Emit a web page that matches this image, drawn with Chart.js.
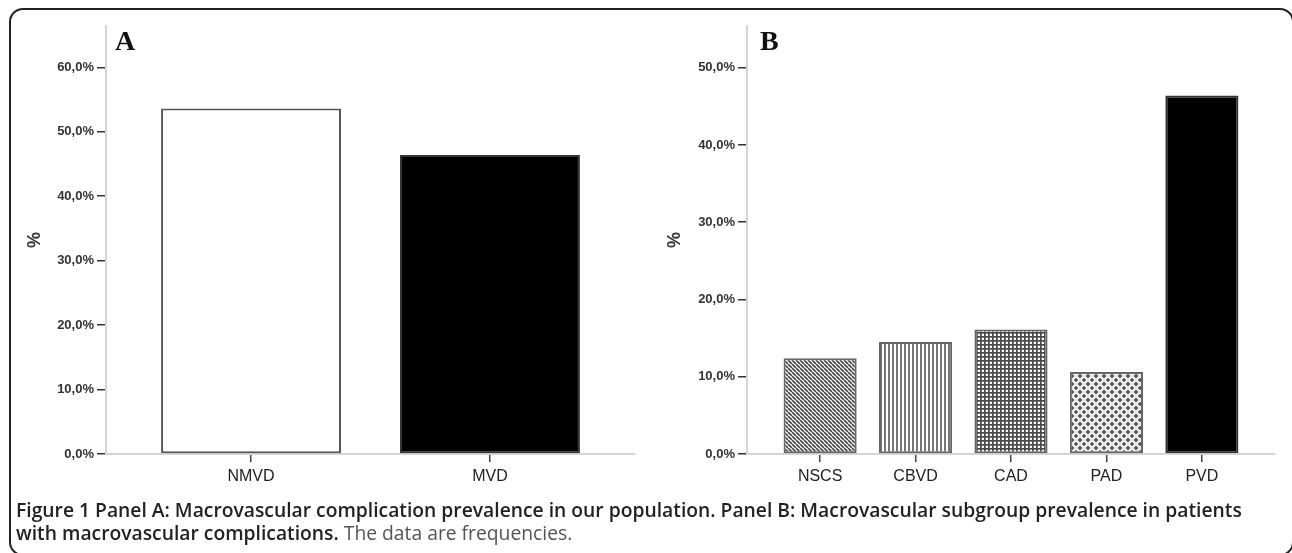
<!DOCTYPE html>
<html>
<head>
<meta charset="utf-8">
<script src="https://cdn.jsdelivr.net/npm/chart.js@4.4.1/dist/chart.umd.min.js"></script>
<style>
  html, body { margin: 0; padding: 0; background: #fff; width: 1292px; height: 553px; overflow: hidden; position: relative; }
  .frame { position: absolute; left: 9px; top: 8px; width: 1285px; height: 548px; box-sizing: border-box;
           border: 2px solid #222; border-radius: 14px; }
  .panel { position: absolute; top: 0; height: 500px; }
  #wrapA { left: 0; width: 646px; }
  #wrapB { left: 640px; width: 652px; }
  .letter { position: absolute; font-family: "Liberation Serif", "Times New Roman", serif; font-weight: bold; font-size: 28px; color: #111; line-height: 1; }
  .caption { position: absolute; left: 16px; top: 498px; font-family: "Open Sans", "Noto Sans", sans-serif; font-size: 19.3px; line-height: 23px; color: #222; white-space: nowrap; }
  .caption b { font-weight: 600; }
  .caption .n { font-weight: 400; color: #555; }
</style>
</head>
<body>
<div class="frame"></div>
<div class="panel" id="wrapA"><canvas id="chartA"></canvas></div>
<div class="panel" id="wrapB"><canvas id="chartB"></canvas></div>
<div class="letter" style="left:115px; top:27px;">A</div>
<div class="letter" style="left:760px; top:27px;">B</div>
<div class="caption"><b>Figure 1 Panel A: Macrovascular complication prevalence in our population. Panel B: Macrovascular subgroup prevalence in patients</b><br><b>with macrovascular complications.</b> <span class="n">The data are frequencies.</span></div>
<script>
// ---- data ----
const categoriesA = ["NMVD", "MVD"];
const valuesA = [53.6, 46.4];
const yTicksA = [0, 10, 20, 30, 40, 50, 60];
const yMaxA = 66.4;

const categoriesB = ["NSCS", "CBVD", "CAD", "PAD", "PVD"];
const valuesB = [12.4, 14.5, 16.1, 10.6, 46.4];
const yTicksB = [0, 10, 20, 30, 40, 50];
const yMaxB = 55.4;

// ---- patterns ----
function makeTile(size, draw) {
  const c = document.createElement('canvas');
  c.width = size; c.height = size;
  const g = c.getContext('2d');
  g.fillStyle = '#fff'; g.fillRect(0, 0, size, size);
  draw(g, size);
  return document.createElement('canvas').getContext('2d').createPattern(c, 'repeat');
}
const diagPattern = makeTile(4, (g, s) => {
  g.strokeStyle = '#4a4a4a'; g.lineWidth = 1.7;
  for (let k = -1; k <= 1; k++) {
    g.beginPath(); g.moveTo(k * s, 0); g.lineTo(k * s + s, s); g.stroke();
  }
});
const vertPattern = makeTile(4, (g, s) => {
  g.fillStyle = '#777'; g.fillRect(0, 0, 2, s);
});
const gridPattern = makeTile(4, (g, s) => {
  g.fillStyle = '#4a4a4a'; g.fillRect(0, 0, 1.7, s); g.fillRect(0, 0, s, 1.7);
});
const plusPattern = makeTile(8, (g, s) => {
  g.fillStyle = '#e2e2e2'; g.fillRect(0, 0, s, s);
  g.fillStyle = '#fff';
  g.beginPath(); g.moveTo(4, 0.5); g.lineTo(7.5, 4); g.lineTo(4, 7.5); g.lineTo(0.5, 4); g.closePath(); g.fill();
  g.fillStyle = '#444';
  g.fillRect(3.3, 2, 1.4, 4); g.fillRect(2, 3.3, 4, 1.4);
  g.fillRect(-0.7, -2, 1.4, 4); g.fillRect(-2, -0.7, 4, 1.4);
  g.fillRect(7.3, -2, 1.4, 4); g.fillRect(6, -0.7, 4, 1.4);
  g.fillRect(-0.7, 6, 1.4, 4); g.fillRect(-2, 7.3, 4, 1.4);
  g.fillRect(7.3, 6, 1.4, 4); g.fillRect(6, 7.3, 4, 1.4);
});

const fillsA = ['#ffffff', '#000000'];
const fillsB = [diagPattern, vertPattern, gridPattern, plusPattern, '#000000'];

function pct(v) { return v.toFixed(1).replace('.', ',') + '%'; }

function buildChart(id, cats, vals, yTicks, yMax, fills, borders, edgeFrac, barFrac, yAxisWidth, padRight) {
  return new Chart(document.getElementById(id), {
    type: 'bar',
    data: {
      datasets: [{
        data: cats.map((c, i) => ({ x: i, y: vals[i] })),
        backgroundColor: fills,
        borderColor: borders,
        borderWidth: 2,
        borderSkipped: false,
        barPercentage: barFrac,
        categoryPercentage: 1
      }]
    },
    options: {
      responsive: true,
      maintainAspectRatio: false,
      animation: false,
      layout: { padding: { left: 0, right: padRight, top: 26, bottom: 0 } },
      plugins: { legend: { display: false }, tooltip: { enabled: false } },
      scales: {
        x: {
          type: 'linear',
          min: -edgeFrac,
          max: cats.length - 1 + edgeFrac,
          offset: false,
          afterBuildTicks: (s) => { s.ticks = cats.map((c, i) => ({ value: i })); },
          afterFit: (s) => { s.height = 46; },
          border: { display: true, color: '#d4d4d4', width: 2 },
          grid: { display: true, offset: false, drawOnChartArea: false, drawTicks: true, tickLength: 8, color: '#444', lineWidth: 1.5 },
          ticks: {
            autoSkip: false, maxRotation: 0, padding: 5,
            color: '#222',
            font: { family: '"Liberation Sans", Arial, sans-serif', size: 16 },
            callback: (v) => cats[v]
          }
        },
        y: {
          type: 'linear',
          min: 0,
          max: yMax,
          afterBuildTicks: (s) => { s.ticks = yTicks.map(v => ({ value: v })); },
          afterFit: (s) => { s.width = yAxisWidth; },
          border: { display: true, color: '#d4d4d4', width: 2 },
          grid: { display: true, drawOnChartArea: false, drawTicks: true, tickLength: 9, color: '#333', lineWidth: 1.5 },
          ticks: {
            padding: 3,
            color: '#333',
            font: { family: '"Liberation Sans", Arial, sans-serif', size: 13, weight: 'bold' },
            callback: (v) => pct(v)
          },
          title: {
            display: true, text: '%', color: '#333',
            padding: { top: 24, bottom: 0 },
            font: { family: '"Liberation Sans", Arial, sans-serif', size: 18, weight: 'bold' }
          }
        }
      }
    }
  });
}

buildChart('chartA', categoriesA, valuesA, yTicksA, yMaxA, fillsA, ['#555', '#333'], 0.607, 0.753, 106, 11);
buildChart('chartB', categoriesB, valuesB, yTicksB, yMaxB, fillsB, ['#666', '#666', '#666', '#666', '#333'], 0.766, 0.766, 107, 17);
</script>
</body>
</html>
